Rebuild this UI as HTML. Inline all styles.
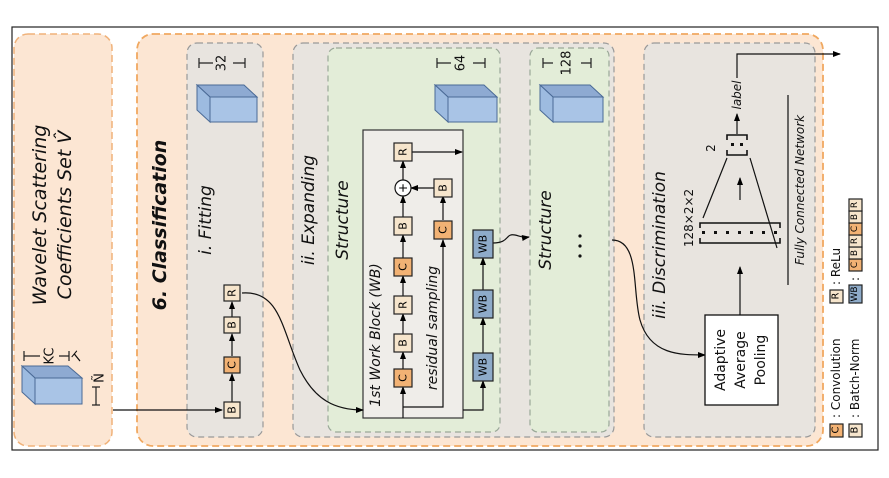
<!DOCTYPE html>
<html><head><meta charset="utf-8"><style>
html,body{margin:0;padding:0;background:#fff;}
svg{display:block;font-family:"DejaVu Sans","Liberation Sans",sans-serif;}
</style></head><body>
<svg width="889" height="478" viewBox="0 0 889 478" xmlns="http://www.w3.org/2000/svg">
<defs>
<marker id="a" markerWidth="8" markerHeight="8" refX="7" refY="4" orient="auto" markerUnits="userSpaceOnUse"><path d="M0,1 L8,4 L0,7 z" fill="#000"/></marker>
</defs>
<rect x="0" y="0" width="889" height="478" fill="#fff"/>
<rect x="12" y="27" width="866" height="423" fill="#fff" stroke="#222" stroke-width="1.2"/>
<!-- panels -->
<rect x="14" y="34" width="98" height="412" rx="14" fill="#fce6d3" stroke="#f0b27a" stroke-width="1.5" stroke-dasharray="7,4"/>
<rect x="137" y="34" width="686" height="412" rx="16" fill="#fce6d3" stroke="#f0a860" stroke-width="1.8" stroke-dasharray="7,4"/>
<rect x="187" y="43" width="76" height="394" rx="10" fill="#e8e4df" stroke="#999" stroke-width="1.2" stroke-dasharray="6,4"/>
<rect x="293" y="43" width="321" height="394" rx="10" fill="#e8e4df" stroke="#999" stroke-width="1.2" stroke-dasharray="6,4"/>
<rect x="328" y="48" width="172" height="384" rx="8" fill="#e3edd8" stroke="#9aa898" stroke-width="1.2" stroke-dasharray="6,4"/>
<rect x="530" y="48" width="79" height="384" rx="8" fill="#e3edd8" stroke="#9aa898" stroke-width="1.2" stroke-dasharray="6,4"/>
<rect x="644" y="43" width="171" height="394" rx="10" fill="#e8e4df" stroke="#999" stroke-width="1.2" stroke-dasharray="6,4"/>
<rect x="363" y="130" width="100" height="288" fill="#efede9" stroke="#333" stroke-width="1.2"/>

<!-- cubes: depth toward upper-left -->
<g stroke="#4a6a96" stroke-width="1">
<polygon points="22,366 68,366 82,378 35,378" fill="#8eaad2"/><polygon points="22,366 35,378 35,404 22,392" fill="#9dbbe0"/><rect x="35" y="378" width="47" height="26" fill="#a9c4e6"/>
<polygon points="197,85 244,85 257,97 210,97" fill="#8eaad2"/><polygon points="197,85 210,97 210,122 197,110" fill="#9dbbe0"/><rect x="210" y="97" width="47" height="25" fill="#a9c4e6"/>
<polygon points="435,85 484,85 497,97 448,97" fill="#8eaad2"/><polygon points="435,85 448,97 448,122 435,110" fill="#9dbbe0"/><rect x="448" y="97" width="49" height="25" fill="#a9c4e6"/>
<polygon points="540,85 590,85 603,97 553,97" fill="#8eaad2"/><polygon points="540,85 553,97 553,122 540,110" fill="#9dbbe0"/><rect x="553" y="97" width="50" height="25" fill="#a9c4e6"/>
</g>
<!-- dimension marks -->
<g stroke="#222" stroke-width="1.2" fill="none">
<path d="M24,351 v10 M24,356 h16 M69,351 v10 M69,356 h-10"/>
<path d="M92,387 h8 M96,387 v18 M92,405 h8"/>
<path d="M199,58 v10 M199,63 h14 M245,58 v10 M245,63 h-12"/>
<path d="M437,58 v10 M437,63 h14 M485,58 v10 M485,63 h-12"/>
<path d="M543,58 v10 M543,63 h10 M591,58 v10 M591,63 h-10"/>
</g>
<g font-size="13" text-anchor="middle" fill="#111">
<text transform="translate(50,356) rotate(-90)" dominant-baseline="central">KC</text>
<text transform="translate(78,358) rotate(-50)" dominant-baseline="central" font-style="italic">T</text>
<text transform="translate(100,378) rotate(-90)" dominant-baseline="central">Ñ</text>
<text transform="translate(222,63) rotate(-90)" dominant-baseline="central">32</text>
<text transform="translate(461,63) rotate(-90)" dominant-baseline="central">64</text>
<text transform="translate(567,63) rotate(-90)" dominant-baseline="central">128</text>
</g>

<!-- titles -->
<g font-style="italic" text-anchor="middle" fill="#111">
<text transform="translate(40,215) rotate(-90)" dominant-baseline="central" font-size="19">Wavelet Scattering</text>
<text transform="translate(65,215) rotate(-90)" dominant-baseline="central" font-size="19">Coefficients Set V̂</text>
<text transform="translate(160,225) rotate(-90)" dominant-baseline="central" font-size="19" font-weight="bold">6. Classification</text>
<text transform="translate(206,220) rotate(-90)" dominant-baseline="central" font-size="17">i. Fitting</text>
<text transform="translate(309,210) rotate(-90)" dominant-baseline="central" font-size="17">ii. Expanding</text>
<text transform="translate(343,220) rotate(-90)" dominant-baseline="central" font-size="17">Structure</text>
<text transform="translate(376,335) rotate(-90)" dominant-baseline="central" font-size="14">1st Work Block (WB)</text>
<text transform="translate(433,328) rotate(-90)" dominant-baseline="central" font-size="14">residual sampling</text>
<text transform="translate(546,230) rotate(-90)" dominant-baseline="central" font-size="17">Structure</text>
<text transform="translate(660,245) rotate(-90)" dominant-baseline="central" font-size="17">iii. Discrimination</text>
<text transform="translate(800,190) rotate(-90)" dominant-baseline="central" font-size="12">Fully Connected Network</text>
<text transform="translate(737,95) rotate(-90)" dominant-baseline="central" font-size="12">label</text>
</g>
<g fill="#111" font-size="12" text-anchor="middle">
<text transform="translate(689,218) rotate(-90)" dominant-baseline="central">128×2×2</text>
<text transform="translate(711,148) rotate(-90)" dominant-baseline="central">2</text>
</g>
<g fill="#111"><circle cx="580" cy="236" r="1.6"/><circle cx="580" cy="246" r="1.6"/><circle cx="580" cy="256" r="1.6"/></g>

<!-- connectors -->
<g stroke="#111" stroke-width="1.2" fill="none">
<path d="M113,410 H222" marker-end="url(#a)"/>
<path d="M232,402 V374" marker-end="url(#a)"/>
<path d="M232,356 V334" marker-end="url(#a)"/>
<path d="M232,317 V302" marker-end="url(#a)"/>
<path d="M242,293 C280,290 282,330 300,370 C315,400 335,410 363,410" marker-end="url(#a)"/>
<path d="M403,418 V387" marker-end="url(#a)"/>
<path d="M403,369 V352" marker-end="url(#a)"/>
<path d="M403,334 V314" marker-end="url(#a)"/>
<path d="M403,296 V276" marker-end="url(#a)"/>
<path d="M403,258 V235" marker-end="url(#a)"/>
<path d="M403,217 V196" marker-end="url(#a)"/>
<path d="M403,180 V161" marker-end="url(#a)"/>
<path d="M412,152 H462" marker-end="url(#a)"/>
<path d="M403,407 H443 V240" marker-end="url(#a)"/>
<path d="M443,220 V196" marker-end="url(#a)"/>
<path d="M434,188 H411" marker-end="url(#a)"/>
<path d="M463,410 H483 V381" marker-end="url(#a)"/>
<path d="M483,353 V318" marker-end="url(#a)"/>
<path d="M483,290 V258" marker-end="url(#a)"/>
<path d="M493,243 C510,243 505,233 515,235 C520,236 522,238 529,237" marker-end="url(#a)"/>
<path d="M612,240 C640,240 632,290 640,320 C650,355 680,355 705,355" marker-end="url(#a)"/>
<path d="M740,315 V267" marker-end="url(#a)"/>
<path d="M740,200 V178" marker-end="url(#a)"/>
<path d="M737,134 V114" marker-end="url(#a)"/>
<path d="M737,78 V54 H840" marker-end="url(#a)"/>
<path d="M703,218 L727,158 M777,248 L750,158"/>
<path d="M788,95 V285"/>
</g>
<g stroke="#111" stroke-width="1.6" fill="none">
<path d="M700,228 v-5 h80 v5 M700,238 v5 h80 v-5" />
<path d="M727,140 v-5 h20 v5 M727,150 v5 h20 v-5"/>
</g>
<g fill="#111">
<rect x="702" y="231" width="3" height="3"/><rect x="714" y="231" width="3" height="3"/><rect x="726" y="231" width="3" height="3"/><rect x="738" y="231" width="3" height="3"/><rect x="750" y="231" width="3" height="3"/><rect x="762" y="231" width="3" height="3"/><rect x="774" y="231" width="3" height="3"/>
<rect x="731" y="143" width="3" height="3"/><rect x="740" y="143" width="3" height="3"/>
</g>
<circle cx="403" cy="188" r="8" fill="#fff" stroke="#111" stroke-width="1.2"/>
<text transform="translate(403,188) rotate(-90)" text-anchor="middle" dominant-baseline="central" font-size="12">+</text>

<rect x="705" y="315" width="73" height="90" fill="#fff" stroke="#111" stroke-width="1.3"/>
<g font-size="14" text-anchor="middle" fill="#111">
<text transform="translate(721,360) rotate(-90)" dominant-baseline="central">Adaptive</text>
<text transform="translate(741,360) rotate(-90)" dominant-baseline="central">Average</text>
<text transform="translate(761,360) rotate(-90)" dominant-baseline="central">Pooling</text>
</g>

<g stroke="#222" stroke-width="1.2" font-size="11" text-anchor="middle">
<rect x="224" y="402" width="16" height="16" fill="#f6e5cc"/><text transform="translate(232,410) rotate(-90)" dominant-baseline="central" stroke="none">B</text>
<rect x="224" y="357" width="16" height="16" fill="#f2b274"/><text transform="translate(232,365) rotate(-90)" dominant-baseline="central" stroke="none">C</text>
<rect x="224" y="317" width="16" height="16" fill="#f6e5cc"/><text transform="translate(232,325) rotate(-90)" dominant-baseline="central" stroke="none">B</text>
<rect x="224" y="285" width="16" height="16" fill="#f6e5cc"/><text transform="translate(232,293) rotate(-90)" dominant-baseline="central" stroke="none">R</text>
<rect x="394" y="369" width="18" height="18" fill="#f2b274"/><text transform="translate(403,378) rotate(-90)" dominant-baseline="central" stroke="none">C</text>
<rect x="394" y="334" width="18" height="18" fill="#f6e5cc"/><text transform="translate(403,343) rotate(-90)" dominant-baseline="central" stroke="none">B</text>
<rect x="394" y="296" width="18" height="18" fill="#f6e5cc"/><text transform="translate(403,305) rotate(-90)" dominant-baseline="central" stroke="none">R</text>
<rect x="394" y="258" width="18" height="18" fill="#f2b274"/><text transform="translate(403,267) rotate(-90)" dominant-baseline="central" stroke="none">C</text>
<rect x="394" y="217" width="18" height="18" fill="#f6e5cc"/><text transform="translate(403,226) rotate(-90)" dominant-baseline="central" stroke="none">B</text>
<rect x="394" y="143" width="18" height="18" fill="#f6e5cc"/><text transform="translate(403,152) rotate(-90)" dominant-baseline="central" stroke="none">R</text>
<rect x="434" y="221" width="18" height="18" fill="#f2b274"/><text transform="translate(443,230) rotate(-90)" dominant-baseline="central" stroke="none">C</text>
<rect x="434" y="179" width="18" height="18" fill="#f6e5cc"/><text transform="translate(443,188) rotate(-90)" dominant-baseline="central" stroke="none">B</text>
<rect x="473" y="353" width="20" height="28" fill="#8eabc9"/><text transform="translate(483,367) rotate(-90)" dominant-baseline="central" stroke="none">WB</text>
<rect x="473" y="290" width="20" height="28" fill="#8eabc9"/><text transform="translate(483,304) rotate(-90)" dominant-baseline="central" stroke="none">WB</text>
<rect x="473" y="230" width="20" height="28" fill="#8eabc9"/><text transform="translate(483,244) rotate(-90)" dominant-baseline="central" stroke="none">WB</text>
<rect x="830" y="424" width="13" height="13" fill="#f2b274"/><text transform="translate(836,430) rotate(-90)" dominant-baseline="central" stroke="none" font-size="10">C</text>
<rect x="849" y="424" width="13" height="13" fill="#f6e5cc"/><text transform="translate(855,430) rotate(-90)" dominant-baseline="central" stroke="none" font-size="10">B</text>
<rect x="830" y="290" width="13" height="13" fill="#f6e5cc"/><text transform="translate(836,296) rotate(-90)" dominant-baseline="central" stroke="none" font-size="10">R</text>
<rect x="849" y="285" width="13" height="18" fill="#8eabc9"/><text transform="translate(855,294) rotate(-90)" dominant-baseline="central" stroke="none" font-size="9">WB</text>
<rect x="849" y="259" width="13" height="12" fill="#f2b274"/><text transform="translate(855,265) rotate(-90)" dominant-baseline="central" stroke="none" font-size="9">C</text>
<rect x="849" y="247" width="13" height="12" fill="#f6e5cc"/><text transform="translate(855,253) rotate(-90)" dominant-baseline="central" stroke="none" font-size="9">B</text>
<rect x="849" y="235" width="13" height="12" fill="#f6e5cc"/><text transform="translate(855,241) rotate(-90)" dominant-baseline="central" stroke="none" font-size="9">R</text>
<rect x="849" y="223" width="13" height="12" fill="#f2b274"/><text transform="translate(855,229) rotate(-90)" dominant-baseline="central" stroke="none" font-size="9">C</text>
<rect x="849" y="211" width="13" height="12" fill="#f6e5cc"/><text transform="translate(855,217) rotate(-90)" dominant-baseline="central" stroke="none" font-size="9">B</text>
<rect x="849" y="199" width="13" height="12" fill="#f6e5cc"/><text transform="translate(855,205) rotate(-90)" dominant-baseline="central" stroke="none" font-size="9">R</text>
</g>
<g font-size="12" fill="#111">
<text transform="translate(836,418) rotate(-90)" dominant-baseline="central">: Convolution</text>
<text transform="translate(855,418) rotate(-90)" dominant-baseline="central">: Batch-Norm</text>
<text transform="translate(836,285) rotate(-90)" dominant-baseline="central">: ReLu</text>
<text transform="translate(855,281) rotate(-90)" dominant-baseline="central">:</text>
</g>
</svg>
</body></html>
